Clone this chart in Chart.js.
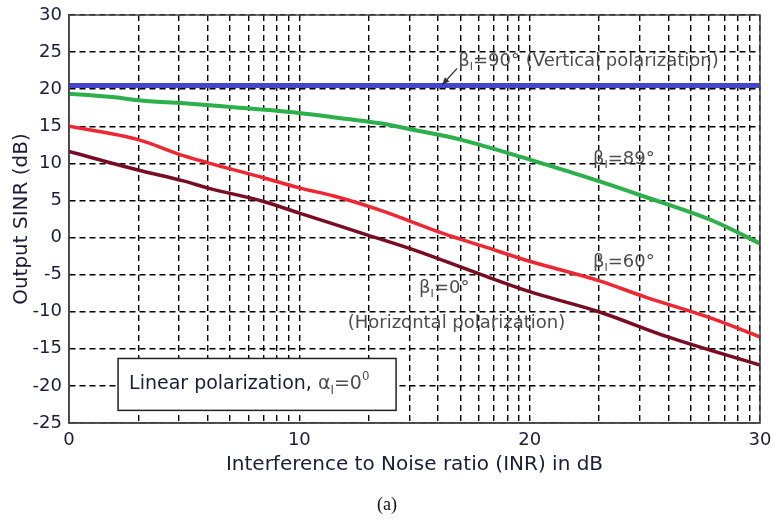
<!DOCTYPE html>
<html lang="en">
<head>
<meta charset="UTF-8">
<title>Output SINR vs INR</title>
<script src="https://cdn.jsdelivr.net/npm/chart.js"></script>
<style>
  html, body { margin: 0; padding: 0; background: #fff; }
  .wrap { position: relative; width: 773px; height: 524px; }
</style>
</head>
<body>
<div class="wrap"><canvas id="sinrChart"></canvas></div>
<script>
  // curves: INR (dB) -> output SINR (dB)
  const inrBlue = [0, 30];
  const sinrBlue = [20.5, 20.5];

  const inrGreen = [0, 2, 3, 5, 7, 10, 12, 13.5, 15, 17, 20, 23, 25, 28, 30];
  const sinrGreen = [19.4, 18.9, 18.5, 18.1, 17.6, 16.8, 16.0, 15.4, 14.5, 13.2, 10.5, 7.6, 5.5, 2.2, -0.8];

  const inrRed = [0, 3, 5, 6, 8.4, 10, 11.5, 13.5, 16.3, 18, 20, 23, 25, 28, 30];
  const sinrRed = [15, 13.2, 11.0, 10.1, 8.1, 6.7, 5.6, 3.7, 0.5, -1.2, -3.2, -5.8, -8.0, -11, -13.4];

  const inrDark = [0, 3, 5, 6, 8.4, 10, 11.5, 13, 15, 17.9, 20, 23, 26, 30];
  const sinrDark = [11.6, 9.1, 7.6, 6.7, 4.9, 3.3, 1.8, 0.3, -1.7, -5.0, -7.3, -10, -13.4, -17.2];

  // axis ticks
  const xLabels = [0, 10, 20, 30];
  const xMinorFactors = [2, 3, 4, 5, 6, 7, 8, 9];   // log-spaced grid inside each 10 dB
  const yMin = -25, yMax = 30, yStep = 5;

  const xGrid = [];
  xLabels.forEach((d, i) => {
    xGrid.push(d);
    if (i < xLabels.length - 1) xMinorFactors.forEach(k => xGrid.push(d + 10 * Math.log10(k)));
  });

  const pts = (xs, ys) => xs.map((v, i) => ({ x: v, y: ys[i] }));
  const sansWide = '"DejaVu Sans", Verdana, sans-serif';
  const tickFont = { family: sansWide, size: 18 };
  const titleFont = { family: sansWide, size: 20 };
  const inkColor = '#1c1c3a';
  const noteColor = '#4d4d4d';

  function richText(ctx, parts, x, y, size, family, color) {
    ctx.textBaseline = 'middle';
    ctx.textAlign = 'left';
    parts.forEach(p => {
      const s = (p.sub || p.sup) ? size * 0.62 : size;
      ctx.font = s + 'px ' + family;
      ctx.fillStyle = p.color || color;
      const dy = p.sub ? size * 0.32 : p.sup ? -size * 0.38 : 0;
      ctx.fillText(p.t, x, y + dy);
      x += ctx.measureText(p.t).width;
    });
    return x;
  }

  const notes = {
    id: 'notes',
    afterDatasetsDraw(chart) {
      const { ctx, chartArea: a, scales: { x, y } } = chart;
      ctx.save();

      // plot frame
      ctx.strokeStyle = '#444';
      ctx.lineWidth = 1.5;
      ctx.strokeRect(a.left, a.top, a.right - a.left, a.bottom - a.top);

      // curve labels
      richText(ctx, [{ t: 'β' }, { t: 'I', sub: true }, { t: '=90° (Vertical polarization)' }],
        x.getPixelForValue(16.9), y.getPixelForValue(23.7), 18, sansWide, noteColor);
      richText(ctx, [{ t: 'β' }, { t: 'I', sub: true }, { t: '=89°' }],
        x.getPixelForValue(22.75), y.getPixelForValue(10.6), 18, sansWide, noteColor);
      richText(ctx, [{ t: 'β' }, { t: 'I', sub: true }, { t: '=60°' }],
        x.getPixelForValue(22.75), y.getPixelForValue(-3.4), 18, sansWide, noteColor);
      richText(ctx, [{ t: 'β' }, { t: 'I', sub: true }, { t: '=0°' }],
        x.getPixelForValue(15.2), y.getPixelForValue(-6.9), 18, sansWide, noteColor);
      richText(ctx, [{ t: '(Horizontal polarization)' }],
        x.getPixelForValue(12.1), y.getPixelForValue(-11.5), 18, sansWide, noteColor);

      // arrow to the blue line
      const tx = x.getPixelForValue(16.2), ty = y.getPixelForValue(20.6);
      const fx = x.getPixelForValue(16.85), fy = y.getPixelForValue(22.8);
      ctx.strokeStyle = '#333';
      ctx.fillStyle = '#333';
      ctx.lineWidth = 1.3;
      ctx.beginPath(); ctx.moveTo(fx, fy); ctx.lineTo(tx, ty); ctx.stroke();
      const ang = Math.atan2(ty - fy, tx - fx);
      ctx.beginPath();
      ctx.moveTo(tx, ty);
      ctx.lineTo(tx - 8 * Math.cos(ang - 0.4), ty - 8 * Math.sin(ang - 0.4));
      ctx.lineTo(tx - 8 * Math.cos(ang + 0.4), ty - 8 * Math.sin(ang + 0.4));
      ctx.closePath(); ctx.fill();

      // info box
      const bx1 = x.getPixelForValue(2.13), bx2 = x.getPixelForValue(14.2);
      const by1 = y.getPixelForValue(-16.3), by2 = y.getPixelForValue(-23.3);
      ctx.fillStyle = '#fff';
      ctx.fillRect(bx1, by1, bx2 - bx1, by2 - by1);
      ctx.strokeStyle = '#222';
      ctx.lineWidth = 1.5;
      ctx.strokeRect(bx1, by1, bx2 - bx1, by2 - by1);
      richText(ctx, [{ t: 'Linear polarization, ', color: inkColor },
        { t: 'α' }, { t: 'I', sub: true }, { t: '=0' }, { t: '0', sup: true }],
        bx1 + 11, (by1 + by2) / 2, 19, sansWide, noteColor);

      ctx.restore();
    },
    afterDraw(chart) {
      const { ctx } = chart;
      ctx.save();
      ctx.font = '18px "Liberation Serif", "Times New Roman", serif';
      ctx.fillStyle = '#111';
      ctx.textAlign = 'center';
      ctx.textBaseline = 'middle';
      ctx.fillText('(a)', 387, 505);
      ctx.restore();
    }
  };

  new Chart(document.getElementById('sinrChart'), {
    type: 'line',
    data: {
      datasets: [
        { label: 'β=90°', data: pts(inrBlue, sinrBlue), borderColor: '#4444cc', borderWidth: 5 },
        { label: 'β=89°', data: pts(inrGreen, sinrGreen), borderColor: '#2bb04a', borderWidth: 4 },
        { label: 'β=60°', data: pts(inrRed, sinrRed), borderColor: '#f02630', borderWidth: 3.5 },
        { label: 'β=0°', data: pts(inrDark, sinrDark), borderColor: '#7a0c22', borderWidth: 3.5 }
      ]
    },
    options: {
      responsive: true,
      maintainAspectRatio: false,
      animation: false,
      elements: { point: { radius: 0 }, line: { cubicInterpolationMode: 'monotone' } },
      layout: { padding: { top: 15, right: 13, bottom: 47, left: 0 } },
      plugins: { legend: { display: false }, tooltip: { enabled: false } },
      scales: {
        x: {
          type: 'linear',
          min: 0,
          max: 30,
          afterBuildTicks: axis => { axis.ticks = xGrid.map(v => ({ value: v })); },
          afterFit: axis => { axis.height = 54; axis.paddingRight = 0; axis.paddingLeft = 0; },
          ticks: {
            autoSkip: false,
            maxRotation: 0,
            padding: 7,
            color: inkColor,
            font: tickFont,
            callback: v => (xLabels.includes(v) ? String(v) : '')
          },
          grid: { color: '#000', lineWidth: 1.4, drawTicks: false },
          border: { color: '#444', width: 1.5, dash: [6, 4] },
          title: {
            display: true,
            text: 'Interference to Noise ratio (INR) in dB',
            color: inkColor,
            font: titleFont,
            padding: { top: 0, bottom: 0 }
          }
        },
        y: {
          min: yMin,
          max: yMax,
          afterFit: axis => { axis.width = 69; axis.paddingTop = 0; axis.paddingBottom = 0; },
          ticks: { stepSize: yStep, padding: 7, color: inkColor, font: tickFont },
          grid: { color: '#000', lineWidth: 1.4, drawTicks: false },
          border: { color: '#444', width: 1.5, dash: [6, 4] },
          title: {
            display: true,
            text: 'Output SINR (dB)',
            color: inkColor,
            font: titleFont,
            padding: { top: 10, bottom: 0 }
          }
        }
      }
    },
    plugins: [notes]
  });
</script>
</body>
</html>
